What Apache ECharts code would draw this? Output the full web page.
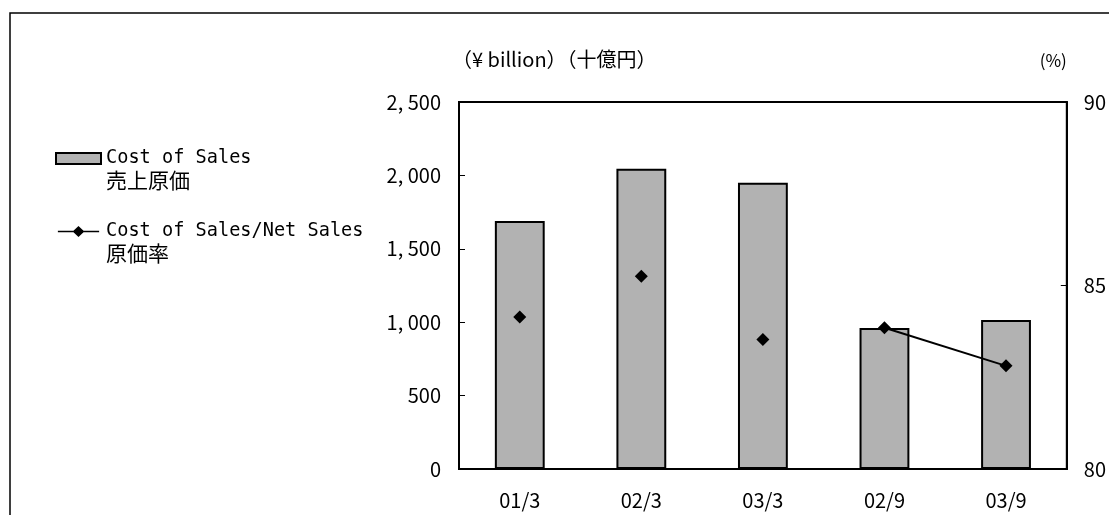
<!DOCTYPE html>
<html>
<head>
<meta charset="utf-8">
<script src="https://cdn.jsdelivr.net/npm/echarts@6/dist/echarts.min.js"></script>
<style>
html,body{margin:0;padding:0;background:#fff;}
#chart{width:1109px;height:515px;}
</style>
</head>
<body>
<div id="chart"></div>
<script>
const categories = ['01/3', '02/3', '03/3', '02/9', '03/9'];
const costOfSales = [1690, 2045, 1950, 960, 1015];
const ratioAnnual = [84.14, 85.25, 83.53, null, null];
const ratioHalf = [null, null, null, 83.85, 82.81];
const leftTicks = [0, 500, 1000, 1500, 2000, 2500];
const rightTicks = [80, 85, 90];
const legendEn = { bar: 'Cost of Sales', line: 'Cost of Sales/Net Sales' };
const legendJa = { bar: '売上原価', line: '原価率' };

const JP = '"Noto Sans CJK JP", sans-serif';
const MONO = '"DejaVu Sans Mono", "Liberation Mono", monospace';
const BAR_NAME = legendEn.bar + '\n' + legendJa.bar;
const LINE_NAME = legendEn.line + '\n' + legendJa.line;
const LINE_ICON = 'path://M0,4.8 H17 L22.5,-0.5 L28,4.8 H45 V6.2 H28 L22.5,11.5 L17,6.2 H0 Z';

const chart = echarts.init(document.getElementById('chart'));
chart.setOption({
  animation: false,
  backgroundColor: '#fff',
  graphic: [{
    type: 'rect', silent: true, z: 0,
    shape: { x: 10, y: 13, width: 1200, height: 600 },
    style: { fill: 'none', stroke: '#000', lineWidth: 1.5 }
  }],
  grid: { left: 459, top: 102, right: 38, bottom: 46, show: true, borderColor: '#000', borderWidth: 2, backgroundColor: 'transparent' },
  legend: {
    orient: 'vertical', left: 55, top: 127, itemGap: 9, padding: 0,
    itemWidth: 45, itemHeight: 11,
    data: [
      { name: BAR_NAME, icon: 'rect', itemStyle: { borderWidth: 2, borderColor: '#000' } },
      { name: LINE_NAME, icon: LINE_ICON, itemStyle: { color: '#000', borderWidth: 0 } }
    ],
    formatter: name => {
      const [en, ja] = name.split('\n');
      return '{e| }\n{a|' + en + '}\n{b|' + ja + '}';
    },
    textStyle: {
      color: '#000',
      rich: {
        e: { fontSize: 19, lineHeight: 22, fontFamily: MONO },
        a: { fontSize: 18.6, lineHeight: 22, fontFamily: MONO, color: '#000' },
        b: { fontSize: 21, lineHeight: 22, fontFamily: JP, color: '#000' }
      }
    }
  },
  xAxis: {
    type: 'category', data: categories,
    axisLine: { lineStyle: { color: '#000', width: 2 } },
    axisTick: { inside: true, length: 7, lineStyle: { color: '#000', width: 1 } },
    axisLabel: { fontFamily: JP, fontSize: 20, color: '#000', margin: 21 }
  },
  yAxis: [{
    type: 'value', min: leftTicks[0], max: leftTicks[leftTicks.length - 1], interval: leftTicks[1] - leftTicks[0],
    name: '（¥ billion）（十億円）', nameLocation: 'end', nameGap: 33,
    nameTextStyle: { fontFamily: JP, fontSize: 20, color: '#000', align: 'left', padding: [0, 0, 0, -7] },
    axisLine: { show: true, lineStyle: { color: '#000', width: 2 } },
    axisTick: { show: true, inside: true, length: 6, lineStyle: { color: '#000' } },
    splitLine: { show: false },
    axisLabel: { fontFamily: JP, fontSize: 20, color: '#000', margin: 18,
      formatter: v => v >= 1000 ? Math.floor(v / 1000) + ', ' + String(v % 1000).padStart(3, '0') : String(v) }
  }, {
    type: 'value', min: rightTicks[0], max: rightTicks[rightTicks.length - 1], interval: rightTicks[1] - rightTicks[0], position: 'right',
    name: '(%)', nameLocation: 'end', nameGap: 33,
    nameTextStyle: { fontFamily: JP, fontSize: 17, color: '#000', align: 'right' },
    axisLine: { show: true, lineStyle: { color: '#000', width: 2 } },
    axisTick: { show: true, inside: true, length: 6, lineStyle: { color: '#000' } },
    splitLine: { show: false },
    axisLabel: { fontFamily: JP, fontSize: 20, color: '#000', margin: 17 }
  }],
  series: [{
    name: BAR_NAME, type: 'bar', data: costOfSales, barWidth: '41%',
    itemStyle: { color: '#b2b2b2', borderColor: '#000', borderWidth: 2 }
  }, {
    name: LINE_NAME, type: 'line', yAxisIndex: 1, data: ratioHalf,
    symbol: 'diamond', symbolSize: 13, showAllSymbol: true,
    lineStyle: { color: '#000', width: 2 }, itemStyle: { color: '#000', opacity: 1 }
  }, {
    name: LINE_NAME, type: 'scatter', yAxisIndex: 1, data: ratioAnnual,
    symbol: 'diamond', symbolSize: 13, itemStyle: { color: '#000', opacity: 1 }
  }]
});
</script>
</body>
</html>
